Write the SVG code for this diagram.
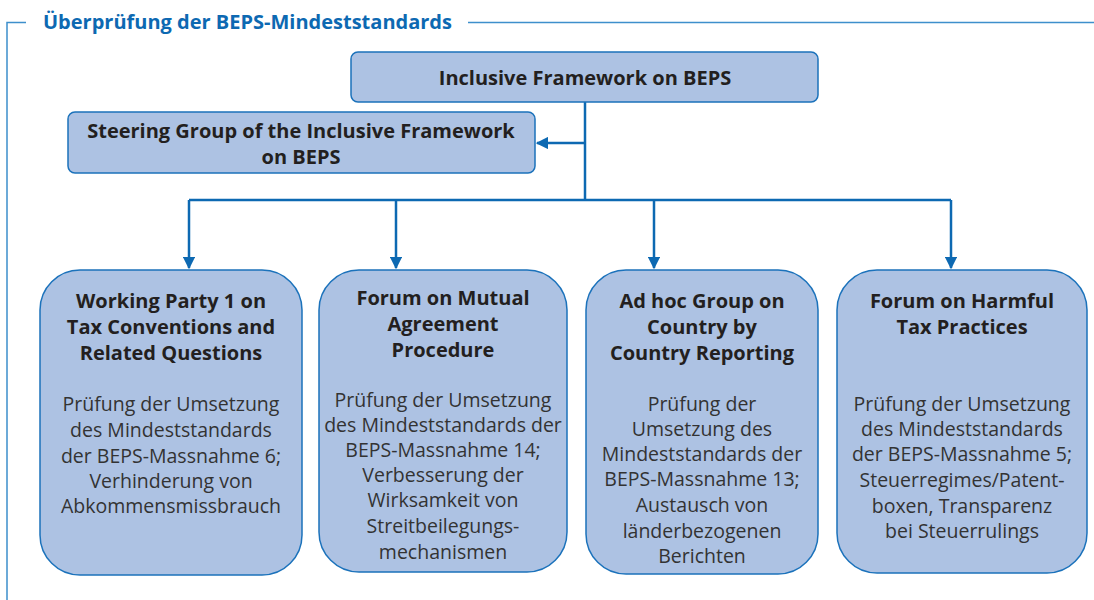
<svg xmlns="http://www.w3.org/2000/svg" width="1094" height="600" viewBox="0 0 1094 600">
<style>
.frame{stroke:#3d8fcc;stroke-width:1.5;fill:none}
.box{fill:#adc2e3;stroke:#1b72bb;stroke-width:1.5}
.conn{stroke:#0d69b2;stroke-width:2.5;fill:none}
.t{font-family:"Open Sans","Liberation Sans",sans-serif;font-weight:bold;font-size:20px;fill:#231f20;text-anchor:middle}
.b{font-family:"Open Sans","Liberation Sans",sans-serif;font-size:19.5px;fill:#333333;text-anchor:middle}
.title{font-family:"Open Sans","Liberation Sans",sans-serif;font-weight:bold;font-size:20px;fill:#0d69b2}
</style>
<defs>
<marker id="ah" viewBox="0 0 10 10" refX="9" refY="5" markerWidth="5" markerHeight="5" orient="auto" markerUnits="strokeWidth">
<path d="M0,0 L10,5 L0,10 z" fill="#0d69b2"/>
</marker>
</defs>
<g id="frame">
<path class="frame" d="M7,600 V22.5 H26"/>
<path class="frame" d="M468,22.5 H1094"/>
<text class="title" x="43" y="29">Überprüfung der BEPS-Mindeststandards</text>
</g>
<g id="connectors">
<path class="conn" d="M585,102 V200"/>
<path class="conn" d="M585,143 H537" marker-end="url(#ah)"/>
<path class="conn" d="M189,200 H951"/>
<path class="conn" d="M189,200 V268" marker-end="url(#ah)"/>
<path class="conn" d="M396,200 V268" marker-end="url(#ah)"/>
<path class="conn" d="M654,200 V268" marker-end="url(#ah)"/>
<path class="conn" d="M951,200 V268" marker-end="url(#ah)"/>
</g>
<g id="inclusive">
<rect class="box" x="351" y="52" width="467" height="50" rx="7"/>
<text class="t" x="585" y="85">Inclusive Framework on BEPS</text>
</g>
<g id="steering">
<rect class="box" x="68" y="112" width="467" height="61" rx="7"/>
<text class="t" x="301" y="138">Steering Group of the Inclusive Framework</text>
<text class="t" x="301" y="164">on BEPS</text>
</g>
<g id="wp1">
<rect class="box" x="40" y="270" width="262" height="305" rx="40"/>
<text class="t" x="171" y="308">Working Party 1 on</text>
<text class="t" x="171" y="334">Tax Conventions and</text>
<text class="t" x="171" y="360">Related Questions</text>
<text class="b" x="171" y="411">Prüfung der Umsetzung</text>
<text class="b" x="171" y="437">des Mindeststandards</text>
<text class="b" x="171" y="463">der BEPS-Massnahme 6;</text>
<text class="b" x="171" y="488">Verhinderung von</text>
<text class="b" x="171" y="513">Abkommensmissbrauch</text>
</g>
<g id="map">
<rect class="box" x="319" y="270" width="248" height="302" rx="40"/>
<text class="t" x="443" y="305">Forum on Mutual</text>
<text class="t" x="443" y="331">Agreement</text>
<text class="t" x="443" y="357">Procedure</text>
<text class="b" x="443" y="407">Prüfung der Umsetzung</text>
<text class="b" x="443" y="432">des Mindeststandards der</text>
<text class="b" x="443" y="457">BEPS-Massnahme 14;</text>
<text class="b" x="443" y="482">Verbesserung der</text>
<text class="b" x="443" y="507">Wirksamkeit von</text>
<text class="b" x="443" y="533">Streitbeilegungs-</text>
<text class="b" x="443" y="559">mechanismen</text>
</g>
<g id="cbc">
<rect class="box" x="586" y="270" width="232" height="304" rx="40"/>
<text class="t" x="702" y="308">Ad hoc Group on</text>
<text class="t" x="702" y="334">Country by</text>
<text class="t" x="702" y="360">Country Reporting</text>
<text class="b" x="702" y="411">Prüfung der</text>
<text class="b" x="702" y="436">Umsetzung des</text>
<text class="b" x="702" y="461">Mindeststandards der</text>
<text class="b" x="702" y="486">BEPS-Massnahme 13;</text>
<text class="b" x="702" y="512">Austausch von</text>
<text class="b" x="702" y="538">länderbezogenen</text>
<text class="b" x="702" y="563">Berichten</text>
</g>
<g id="fhtp">
<rect class="box" x="837" y="270" width="250" height="303" rx="40"/>
<text class="t" x="962" y="308">Forum on Harmful</text>
<text class="t" x="962" y="334">Tax Practices</text>
<text class="b" x="962" y="411">Prüfung der Umsetzung</text>
<text class="b" x="962" y="436">des Mindeststandards</text>
<text class="b" x="962" y="461">der BEPS-Massnahme 5;</text>
<text class="b" x="962" y="487">Steuerregimes/Patent-</text>
<text class="b" x="962" y="513">boxen, Transparenz</text>
<text class="b" x="962" y="538">bei Steuerrulings</text>
</g>
</svg>
